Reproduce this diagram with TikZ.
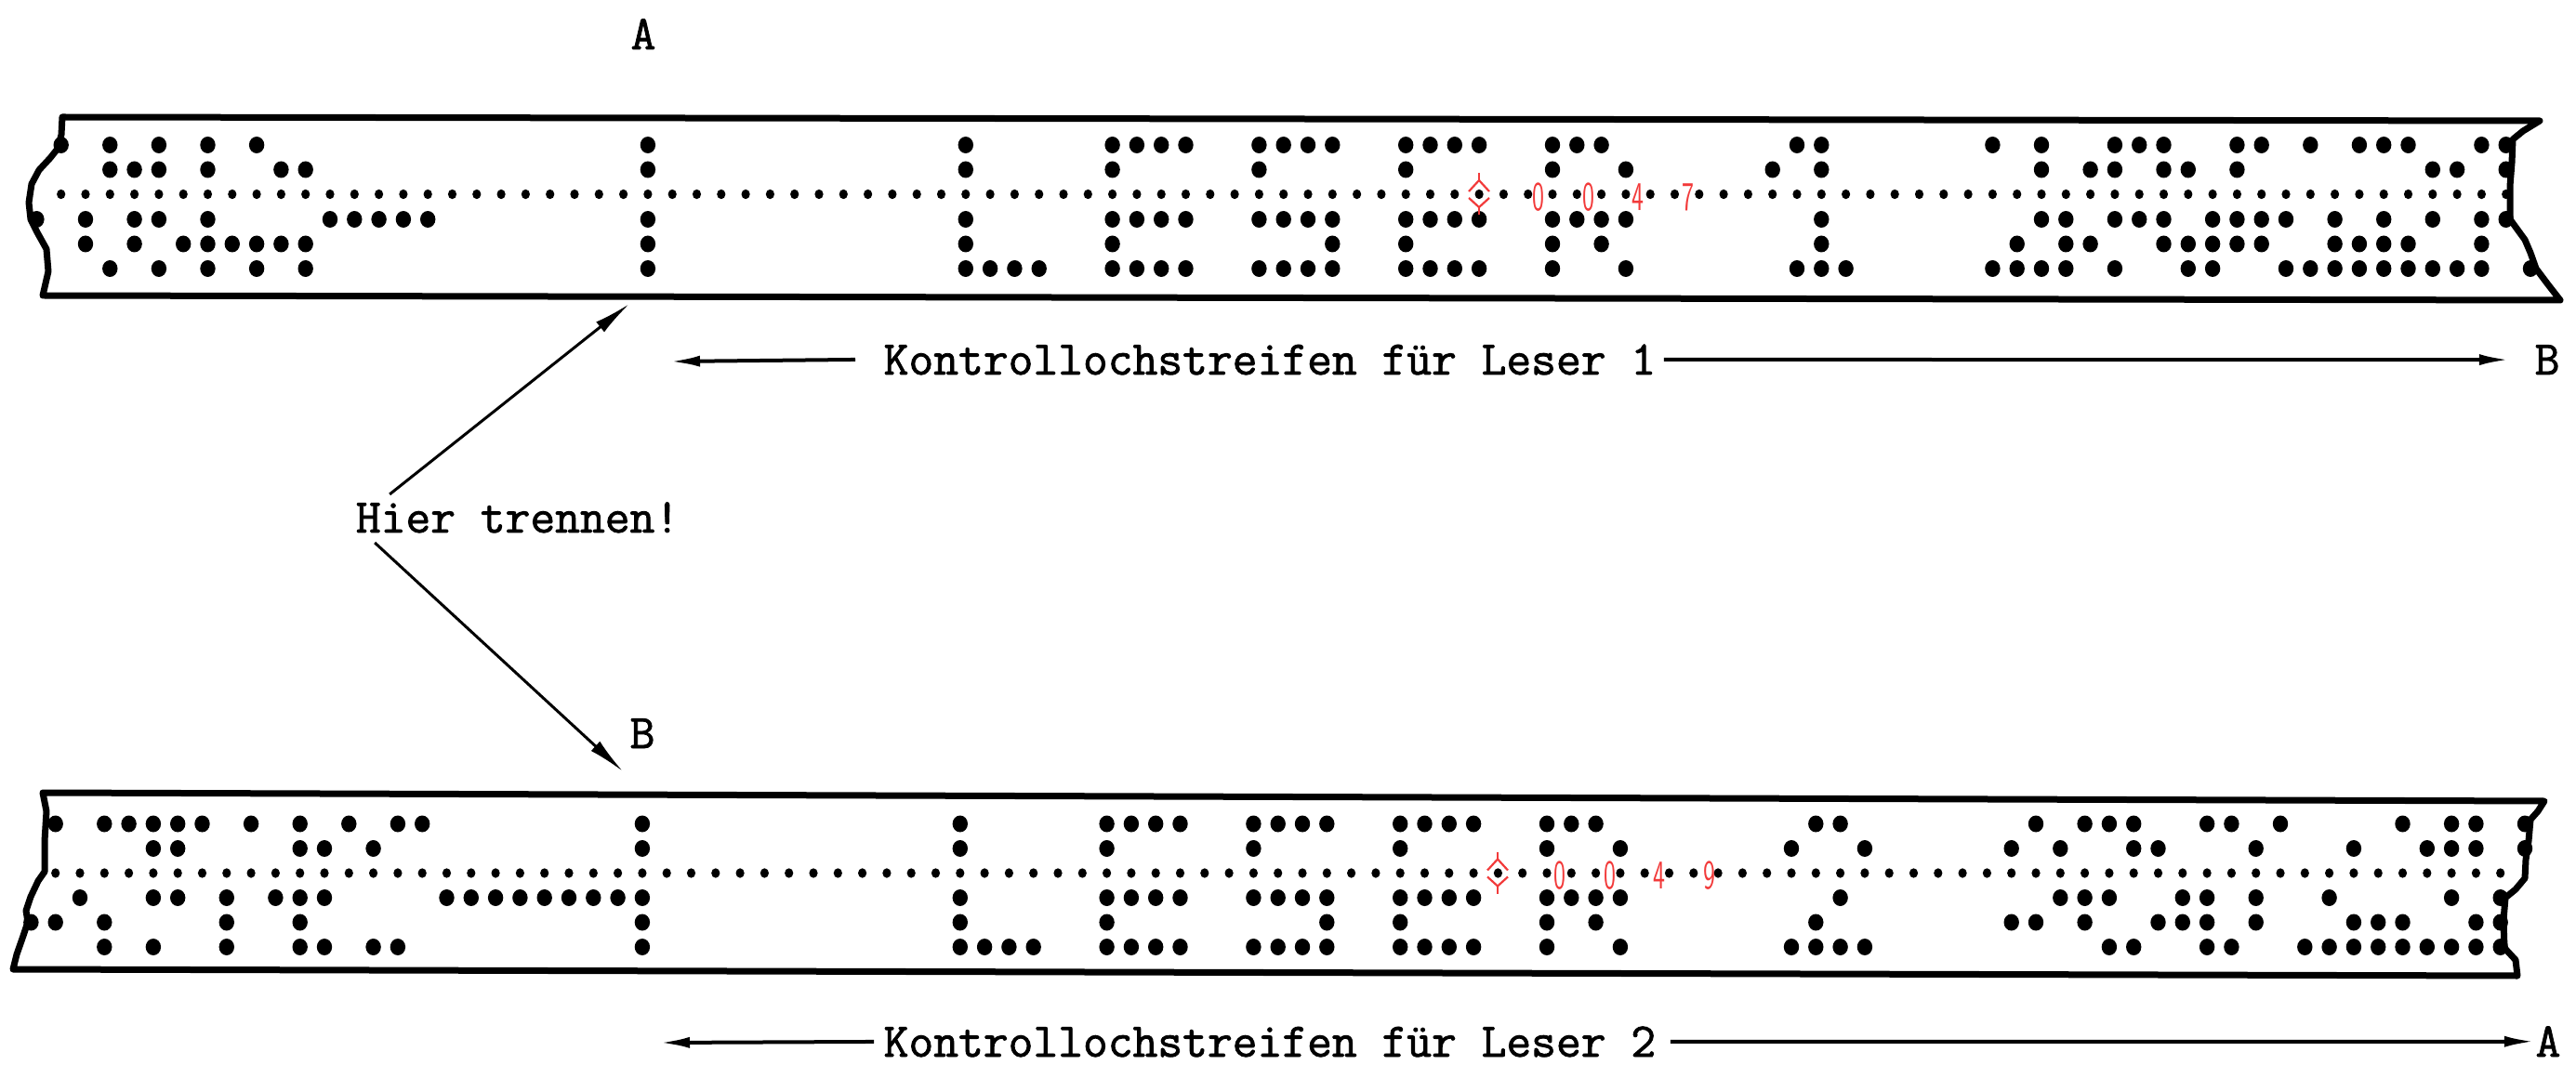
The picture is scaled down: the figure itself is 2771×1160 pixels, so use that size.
\documentclass[tikz,border=0pt]{standalone}
\usepackage{fontspec}
\usepackage{tikz}
\usetikzlibrary{arrows.meta}
\definecolor{pencilred}{RGB}{242,58,58}
\newfontfamily\typewriter{Latin Modern Mono}[FakeBold=1.6]

\begin{document}
\begin{tikzpicture}[x=0.1mm, y=-0.1mm,
		lbl/.style={font=\fontsize{14.8}{16}\selectfont\typewriter\bfseries, inner sep=0pt},
		reddigit/.style={font=\fontsize{12.5}{13}\selectfont\sffamily, text=pencilred, xscale=0.6, inner sep=0pt},
		tape/.style={line width=0.7mm, line join=round},
		cutarrow/.style={-{Latex[length=4mm,width=1.4mm]}, line width=0.3mm},
		readarrow/.style={-{Latex[length=3.3mm,width=1.2mm]}, line width=0.4mm},
		marker/.style={draw=pencilred, line width=0.22mm}]
			\useasboundingbox (0,0) rectangle (2771,1160);
			\draw[tape] (67,126) -- (2732,130) -- (2714,141) -- (2703,150) -- (2702,175) -- (2700,200) -- (2700,236) -- (2708,247) -- (2716,258) -- (2722,272) -- (2728,289) -- (2740,305) -- (2754,323) -- (46,318) -- (52,292) -- (50,268) -- (40,250) -- (33,236) -- (31,218) -- (34,198) -- (42,183) -- (54,170) -- (62,160) -- (66,145) -- cycle;
			\draw[tape] (46,853) -- (2737,862) -- (2730,873) -- (2722,882) -- (2720,905) -- (2717,925) -- (2716,945) -- (2706,957) -- (2695,966) -- (2693,990) -- (2694,1020) -- (2706,1033) -- (2708,1050) -- (14,1043) -- (18,1027) -- (25,1007) -- (30,992) -- (28,980) -- (33,965) -- (41,948) -- (48,938) -- (48,905) -- (50,873) -- cycle;
			\foreach \c in {0,...,100} {
				\fill ({65.7+26.3*\c},209) ellipse [x radius=4.6, y radius=5.2];
				\fill ({59.7+26.3*\c},939.5) ellipse [x radius=4.6, y radius=5.2];
			}
			\foreach \yy/\cols in {156/{0,2,4,6,8,24,37,43,44,45,46,49,50,51,52,55,56,57,58,61,62,63,71,72,79,81,84,85,86,89,90,92,94,95,96,99,100},
				182.5/{2,3,4,6,9,10,24,37,43,49,55,61,64,70,72,81,83,84,86,87,89,97,98,100},
				236/{-1,1,3,4,6,11,12,13,14,15,24,37,43,44,45,46,49,50,51,52,55,56,57,58,61,62,63,64,72,81,82,84,85,86,88,89,90,91,93,95,97,99,100},
				262.5/{1,3,5,6,7,8,9,10,24,37,43,52,55,61,63,72,80,82,83,86,87,88,89,90,93,94,95,96,99},
				289/{2,4,6,8,10,24,37,38,39,40,43,44,45,46,49,50,51,52,55,56,57,58,61,64,71,72,73,79,80,81,82,84,87,88,91,92,93,94,95,96,97,98,99,101}}
				\foreach \c in \cols
					\fill ({65.7+26.3*(\c)},\yy) ellipse [x radius=8.2, y radius=9];
			\foreach \yy/\cols in {886.5/{0,2,3,4,5,6,8,10,12,14,15,24,37,43,44,45,46,49,50,51,52,55,56,57,58,61,62,63,72,73,81,83,84,85,88,89,91,96,98,99,101},
				913/{4,5,10,11,13,24,37,43,49,55,61,64,71,74,80,82,85,86,90,94,97,98,99,101},
				966/{1,4,5,7,9,10,11,16,17,18,19,20,21,22,23,24,37,43,44,45,46,49,50,51,52,55,56,57,58,61,62,63,64,73,82,83,84,87,88,90,93,98,100},
				992.5/{-1,0,2,7,10,24,37,43,52,55,61,63,72,80,81,83,86,87,88,90,94,95,96,99,100},
				1019/{2,4,7,10,11,13,14,24,37,38,39,40,43,44,45,46,49,50,51,52,55,56,57,58,61,64,71,72,73,74,84,85,88,89,92,93,94,95,96,97,98,99,100}}
				\foreach \c in \cols
					\fill ({59.7+26.3*(\c)},\yy) ellipse [x radius=8.2, y radius=9];
			\foreach \mx/\my in {1591/209, 1611/939.5} {
				\draw[marker] ({\mx-11},{\my-3}) -- (\mx,{\my-15}) -- ({\mx+11},{\my-3});
				\draw[marker] (\mx,{\my-15}) -- (\mx,{\my-23});
				\draw[marker] ({\mx-11},{\my+4}) -- (\mx,{\my+14}) -- ({\mx+11},{\my+4});
				\draw[marker] (\mx,{\my+14}) -- (\mx,{\my+22});
			}
			\foreach \d [count=\i] in {0,0,4,7}
				\node[reddigit](numA\i) at ({1655+53.5*(\i-1)},212) {\d};
			\foreach \d [count=\i] in {0,0,4,9}
				\node[reddigit](numB\i) at ({1678+53.5*(\i-1)},942) {\d};
			\node[lbl, anchor=base](topA) at (692,53) {A};
			\node[lbl, anchor=base west](strip1) at (950,403) {Kontrollochstreifen für Leser 1};
			\node[lbl, anchor=base](endB) at (2740,403) {B};
			\node[lbl, anchor=base](hier) at (557,573) {Hier trennen!};
			\node[lbl, anchor=base](midB) at (691,805) {B};
			\node[lbl, anchor=base west](strip2) at (950,1137) {Kontrollochstreifen für Leser 2};
			\node[lbl, anchor=base](endA) at (2741,1137) {A};
			\coordinate(cut1) at (677,327);
			\coordinate(cut2) at (670,830);
			\coordinate(left1) at (720,389);
			\coordinate(left2) at (709,1122);
			\draw[cutarrow] ([xshift=3.7mm,yshift=0.8mm]hier.north west) -- (cut1);
			\draw[cutarrow] ([xshift=2.1mm,yshift=-1mm]hier.south west) -- (cut2);
			\draw[readarrow] ([xshift=-3mm]strip1.west) -- (left1);
			\draw[readarrow] ([xshift=0.8mm]strip1.east) -- ([xshift=-2.6mm]endB.west);
			\draw[readarrow] ([xshift=-1mm]strip2.west) -- (left2);
			\draw[readarrow] ([xshift=1.5mm]strip2.east) -- (endA.west);
		\end{tikzpicture}
\end{document}
